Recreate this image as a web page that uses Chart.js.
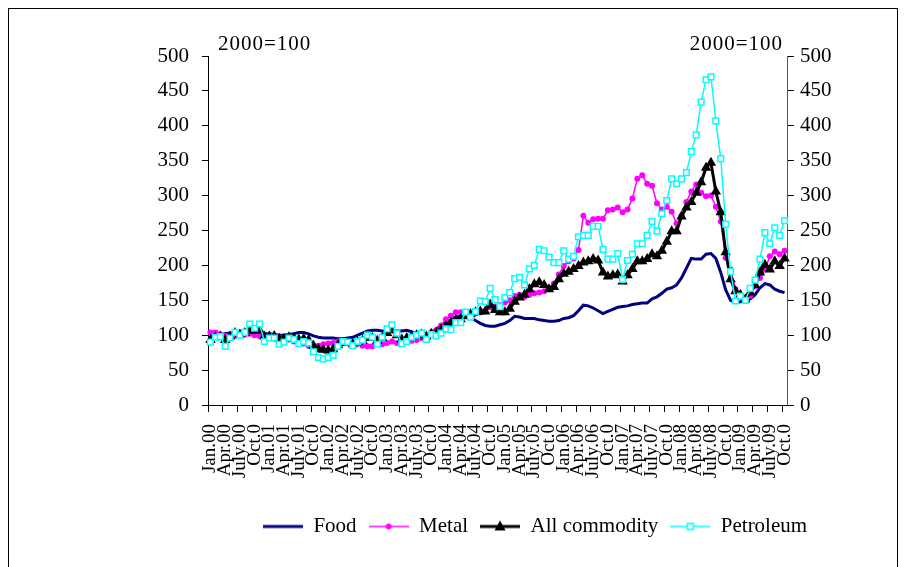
<!DOCTYPE html>
<html>
<head>
<meta charset="utf-8">
<title>Commodity price indices, 2000=100</title>
<script src="https://cdn.jsdelivr.net/npm/chart.js@4.4.1/dist/chart.umd.min.js"></script>
<style>
    html, body { margin: 0; padding: 0; background: #fff; }
    #wrap { width: 906px; height: 567px; }
</style>
</head>
<body>
<div id="wrap"><canvas id="commodityChart" width="906" height="567"></canvas></div>
<script>
// Quarterly tick labels (every third month, Jan.00 .. Oct.09)
const tickLabels = [
    'Jan.00', 'Apr.00', 'July.00', 'Oct.0',
    'Jan.01', 'Apr.01', 'July.01', 'Oct.0',
    'Jan.02', 'Apr.02', 'July.02', 'Oct.0',
    'Jan.03', 'Apr.03', 'July.03', 'Oct.0',
    'Jan.04', 'Apr.04', 'July.04', 'Oct.0',
    'Jan.05', 'Apr.05', 'July.05', 'Oct.0',
    'Jan.06', 'Apr.06', 'July.06', 'Oct.0',
    'Jan.07', 'Apr.07', 'July.07', 'Oct.0',
    'Jan.08', 'Apr.08', 'July.08', 'Oct.0',
    'Jan.09', 'Apr.09', 'July.09', 'Oct.0'
];

// Monthly index values, 2000=100 (Jan 2000 - Oct 2009)
const food = [
    98, 100, 101, 102, 103, 103, 103, 102, 102, 101, 101, 102,
    102, 101, 100, 100, 101, 102, 104, 104, 102, 99, 97, 96,
    96, 96, 95, 95, 96, 97, 100, 103, 106, 107, 107, 106,
    106, 107, 106, 106, 107, 105, 102, 100, 99, 103, 109, 114,
    118, 122, 126, 127, 127, 125, 121, 117, 114, 113, 113, 115,
    117, 121, 127, 126, 124, 124, 124, 122, 121, 120, 120, 121,
    124, 125, 128, 135, 143, 142, 139, 135, 131, 134, 137, 140,
    141, 142, 144, 145, 146, 146, 152, 155, 160, 166, 168, 172,
    182, 196, 210, 209, 209, 216, 217, 210, 190, 165, 150, 147,
    148, 150, 152, 158, 168, 174, 172, 166, 163, 161
];

const metal = [
    104, 104, 101, 99, 100, 99, 101, 101, 102, 100, 99, 98,
    100, 99, 97, 95, 94, 91, 90, 88, 85, 84, 85, 87,
    88, 89, 91, 91, 89, 90, 88, 85, 84, 84, 87, 87,
    89, 91, 89, 89, 91, 92, 93, 96, 99, 104, 107, 114,
    123, 128, 133, 133, 131, 128, 131, 133, 135, 140, 141, 143,
    147, 150, 156, 158, 155, 158, 160, 161, 163, 168, 174, 187,
    199, 206, 210, 222, 271, 261, 266, 267, 267, 279, 280, 283,
    276, 280, 296, 324, 329, 317, 314, 289, 280, 284, 277, 260,
    271, 291, 306, 316, 304, 299, 300, 284, 263, 211, 194, 166,
    154, 150, 156, 170, 182, 194, 213, 220, 216, 221
];

const allCommodity = [
    93, 97, 98, 93, 98, 103, 101, 103, 107, 106, 107, 98,
    98, 99, 95, 95, 97, 96, 94, 95, 93, 85, 80, 79,
    78, 80, 86, 89, 89, 87, 90, 92, 96, 96, 92, 96,
    103, 107, 100, 94, 96, 98, 100, 101, 98, 102, 103, 108,
    113, 118, 122, 123, 127, 130, 133, 134, 134, 144, 136, 133,
    133, 138, 148, 154, 158, 166, 173, 176, 172, 166, 169, 180,
    188, 191, 195, 199, 204, 206, 209, 207, 190, 184, 186, 187,
    177, 186, 195, 206, 206, 209, 216, 213, 221, 234, 249, 249,
    270, 283, 291, 304, 319, 340, 347, 306, 276, 219, 180, 163,
    158, 151, 161, 172, 190, 201, 194, 206, 199, 210
];

const petroleum = [
    90, 97, 98, 84, 96, 104, 100, 104, 116, 110, 116, 91,
    96, 96, 87, 90, 96, 94, 88, 91, 89, 76, 68, 66,
    68, 71, 84, 91, 90, 85, 91, 93, 100, 97, 87, 97,
    109, 115, 103, 88, 91, 97, 100, 103, 94, 101, 99, 103,
    109, 108, 118, 118, 133, 126, 134, 149, 148, 167, 151, 141,
    154, 161, 181, 183, 172, 195, 200, 223, 221, 212, 204, 204,
    221, 209, 213, 241, 243, 243, 256, 256, 223, 209, 209, 217,
    180, 207, 216, 231, 231, 243, 263, 249, 274, 293, 324, 317,
    324, 333, 363, 387, 434, 466, 470, 407, 353, 259, 191, 149,
    156, 150, 167, 179, 209, 247, 231, 254, 243, 264
];

// One category per month
const months = food.map((v, i) => 'm' + i);

const FONT = 'Liberation Serif';

// Legend swatch: short line with the series marker in the middle
function makeSwatch(color, lineWidth, marker) {
    const c = document.createElement('canvas');
    c.width = 40;
    c.height = 14;
    const g = c.getContext('2d');
    g.strokeStyle = color;
    g.lineWidth = lineWidth;
    g.beginPath();
    g.moveTo(0, 7);
    g.lineTo(40, 7);
    g.stroke();
    if (marker === 'circle') {
        g.fillStyle = color;
        g.beginPath();
        g.arc(20, 7, 3, 0, Math.PI * 2);
        g.fill();
    } else if (marker === 'triangle') {
        g.fillStyle = color;
        g.beginPath();
        g.moveTo(20, 1);
        g.lineTo(25.5, 11);
        g.lineTo(14.5, 11);
        g.closePath();
        g.fill();
    } else if (marker === 'rect') {
        g.fillStyle = '#fff';
        g.fillRect(17, 4, 6, 6);
        g.lineWidth = 1.5;
        g.strokeRect(17, 4, 6, 6);
    }
    return c;
}

// indexed by dataset index
const swatches = [
    makeSwatch('#000080', 3, null),
    makeSwatch('#ff00ff', 1.5, 'circle'),
    makeSwatch('#000000', 3, 'triangle'),
    makeSwatch('#00ffff', 1.5, 'rect')
];

// Frame round the page and the "2000=100" notes
const pageDecor = {
    id: 'pageDecor',
    beforeDraw(chart) {
        const ctx = chart.ctx;
        ctx.save();
        ctx.fillStyle = '#fff';
        ctx.fillRect(0, 0, chart.width, chart.height);
        ctx.strokeStyle = '#000';
        ctx.lineWidth = 1;
        ctx.strokeRect(8.5, 8.5, 889, 700);
        ctx.restore();
    },
    afterDraw(chart) {
        const ctx = chart.ctx;
        const area = chart.chartArea;
        ctx.save();
        ctx.fillStyle = '#000';
        ctx.font = '21px "' + FONT + '"';
        ctx.letterSpacing = '1px';
        ctx.textBaseline = 'middle';
        ctx.textAlign = 'left';
        ctx.fillText('2000=100', area.left + 10, 44);
        ctx.textAlign = 'right';
        ctx.fillText('2000=100', area.right - 4, 44);
        ctx.restore();
    }
};

function renderChart() {
    const ctx = document.getElementById('commodityChart');

    new Chart(ctx, {
        type: 'line',
        data: {
            labels: months,
            datasets: [
                {
                    label: 'Food',
                    data: food,
                    borderColor: '#000080',
                    borderWidth: 3,
                    pointRadius: 0,
                    order: 4
                },
                {
                    label: 'Metal',
                    data: metal,
                    borderColor: '#ff00ff',
                    backgroundColor: '#ff00ff',
                    borderWidth: 1.5,
                    pointStyle: 'circle',
                    pointRadius: 3,
                    pointBorderWidth: 0,
                    order: 3
                },
                {
                    label: 'All commodity',
                    data: allCommodity,
                    borderColor: '#000000',
                    backgroundColor: '#000000',
                    borderWidth: 3,
                    pointStyle: 'triangle',
                    pointRadius: 6,
                    pointBorderWidth: 0,
                    order: 2
                },
                {
                    label: 'Petroleum',
                    data: petroleum,
                    borderColor: '#00ffff',
                    backgroundColor: '#00ffff',
                    borderWidth: 1.5,
                    pointStyle: 'rect',
                    pointRadius: 4,
                    pointBackgroundColor: '#ffffff',
                    pointBorderColor: '#00ffff',
                    pointBorderWidth: 1.5,
                    order: 1
                }
            ]
        },
        options: {
            responsive: false,
            animation: false,
            layout: {
                // uneven side padding keeps the legend to the right, as in the original
                padding: { left: 150, right: -14, top: 56, bottom: 20 }
            },
            elements: {
                line: { tension: 0 }
            },
            scales: {
                x: {
                    type: 'category',
                    offset: true,
                    grid: {
                        offset: true,
                        drawOnChartArea: false,
                        drawTicks: true,
                        tickLength: 7,
                        color: (c) => (c.index % 3 === 0 ? '#000' : 'rgba(0,0,0,0)')
                    },
                    border: { display: true, color: '#000', width: 1 },
                    ticks: {
                        autoSkip: false,
                        maxRotation: 90,
                        minRotation: 90,
                        padding: 12,
                        color: '#000',
                        font: { family: FONT, size: 19 },
                        callback: (value, index) => (index % 3 === 0 ? tickLabels[index / 3] : '')
                    },
                    afterFit: (scale) => { scale.height = 99; }
                },
                y: {
                    position: 'left',
                    min: 0,
                    max: 500,
                    grid: { drawOnChartArea: false, tickLength: 6, color: '#000' },
                    border: { display: true, color: '#000', width: 1 },
                    ticks: {
                        stepSize: 50,
                        padding: 13,
                        color: '#000',
                        font: { family: FONT, size: 21 }
                    },
                    afterFit: (scale) => { scale.width = 58; }
                },
                y1: {
                    position: 'right',
                    min: 0,
                    max: 500,
                    grid: { drawOnChartArea: false, tickLength: 7, color: '#000' },
                    border: { display: true, color: '#555', width: 1 },
                    ticks: {
                        stepSize: 50,
                        padding: 6,
                        color: '#000',
                        font: { family: FONT, size: 21 }
                    },
                    afterFit: (scale) => { scale.width = 133; }
                }
            },
            plugins: {
                title: { display: false },
                tooltip: { enabled: false },
                legend: {
                    position: 'bottom',
                    labels: {
                        usePointStyle: true,
                        pointStyleWidth: 40,
                        padding: 12,
                        color: '#000',
                        font: { family: FONT, size: 21 },
                        sort: (a, b) => a.datasetIndex - b.datasetIndex,
                        generateLabels: (chart) => {
                            const items = Chart.defaults.plugins.legend.labels.generateLabels(chart);
                            items.forEach((item) => {
                                item.pointStyle = swatches[item.datasetIndex];
                                item.lineWidth = 0;
                            });
                            return items;
                        }
                    }
                }
            }
        },
        plugins: [pageDecor]
    });
}

renderChart();
</script>
</body>
</html>
